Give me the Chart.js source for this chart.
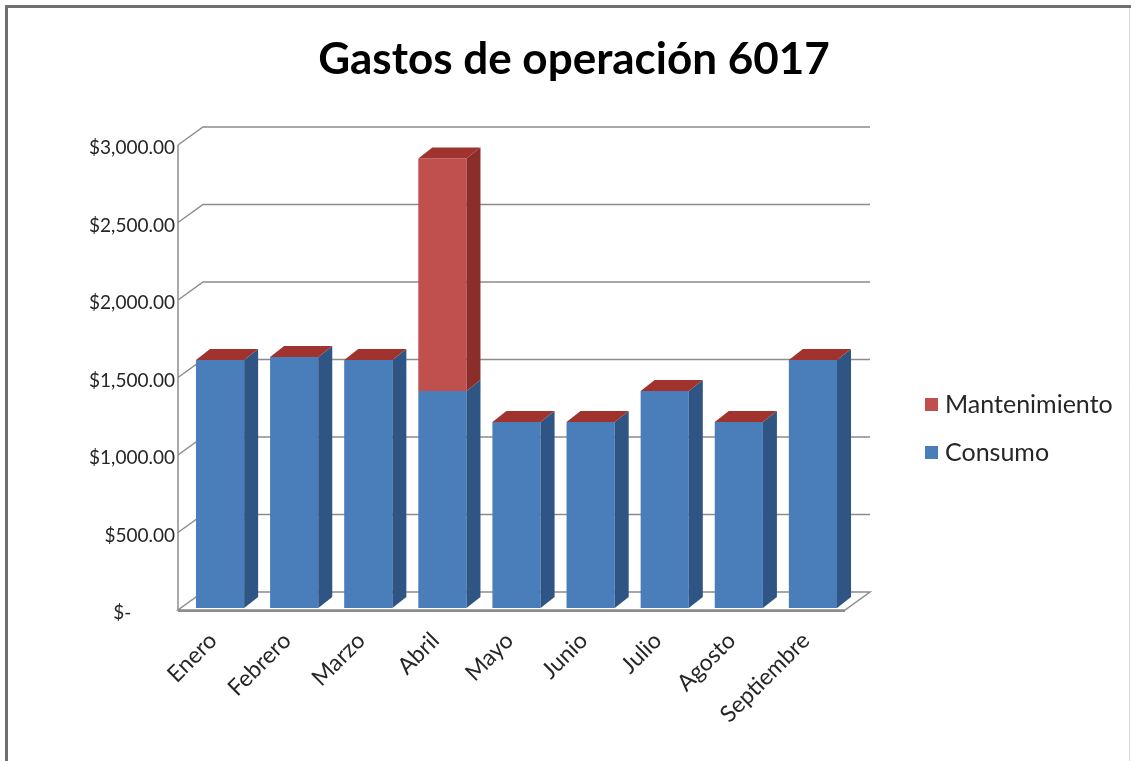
<!DOCTYPE html>
<html>
<head>
<meta charset="utf-8">
<script src="https://cdn.jsdelivr.net/npm/chart.js@4"></script>
<style>
  html, body { margin: 0; padding: 0; background: #fff; }
  #wrap { position: relative; width: 1135px; height: 761px; }
</style>
</head>
<body>
<div id="wrap"><canvas id="gastosChart" width="1135" height="761"></canvas></div>
<script>
// Gastos de operación 6017 - datos
const categories = ['Enero', 'Febrero', 'Marzo', 'Abril', 'Mayo', 'Junio', 'Julio', 'Agosto', 'Septiembre'];
const consumo = [1600, 1620, 1600, 1400, 1200, 1200, 1400, 1200, 1600];
const mantenimiento = [0, 0, 0, 1500, 0, 0, 0, 0, 0];
const yTicks = [0, 500, 1000, 1500, 2000, 2500, 3000];

// 3D look
const barDepth = { dx: 14, dy: -11 };
const wallDepth = { dx: 25, dy: -18 };
const gridColor = '#8c8c8c';
const FONT = 'Lato, "Open Sans", sans-serif';

function formatTick(value) {
    if (value === 0) return '$-         ';
    return '$' + value.toLocaleString('en-US', { minimumFractionDigits: 2, maximumFractionDigits: 2 });
}

const threeD = {
    id: 'threeD',
    beforeDatasetsDraw(chart) {
        const ctx = chart.ctx;
        const ca = chart.chartArea;
        const y = chart.scales.y;
        const fl = ca.left - 5, fr = ca.right - 5;
        const py = v => y.getPixelForValue(v) + 2;
        ctx.save();

        // floor
        const f0 = py(0);
        ctx.beginPath();
        ctx.moveTo(fl, f0);
        ctx.lineTo(fr, f0);
        ctx.lineTo(fr + wallDepth.dx, f0 + wallDepth.dy);
        ctx.lineTo(fl + wallDepth.dx, f0 + wallDepth.dy);
        ctx.closePath();
        ctx.fillStyle = '#ffffff';
        ctx.fill();
        ctx.strokeStyle = gridColor;
        ctx.lineWidth = 1.5;
        ctx.stroke();
        ctx.beginPath();
        ctx.moveTo(fl, f0 + 1);
        ctx.lineTo(fr, f0 + 1);
        ctx.lineWidth = 2;
        ctx.stroke();

        // left wall edge
        ctx.beginPath();
        ctx.moveTo(fl, py(yTicks[yTicks.length - 1]));
        ctx.lineTo(fl, f0);
        ctx.lineWidth = 1.5;
        ctx.stroke();

        // back wall gridlines
        yTicks.forEach(v => {
            if (v === 0) return;
            const yy = py(v);
            ctx.beginPath();
            ctx.moveTo(fl, yy);
            ctx.lineTo(fl + wallDepth.dx, yy + wallDepth.dy);
            ctx.lineTo(fr + wallDepth.dx, yy + wallDepth.dy);
            ctx.stroke();
        });
        ctx.restore();
    },
    afterDatasetsDraw(chart) {
        const ctx = chart.ctx;
        const last = chart.data.datasets.length - 1;
        ctx.save();
        chart.data.datasets.forEach((ds, di) => {
            const meta = chart.getDatasetMeta(di);
            meta.data.forEach(bar => {
                const p = bar.getProps(['x', 'y', 'base', 'width'], true);
                const l = p.x - p.width / 2, r = p.x + p.width / 2;
                const top = Math.min(p.y, p.base), bot = Math.max(p.y, p.base);
                // side face
                ctx.beginPath();
                ctx.moveTo(r, top);
                ctx.lineTo(r + barDepth.dx, top + barDepth.dy);
                ctx.lineTo(r + barDepth.dx, bot + barDepth.dy);
                ctx.lineTo(r, bot);
                ctx.closePath();
                ctx.fillStyle = ds.sideColor;
                ctx.fill();
                // top face only on the top of the stack
                if (di === last) {
                    ctx.beginPath();
                    ctx.moveTo(l, top);
                    ctx.lineTo(l + barDepth.dx, top + barDepth.dy);
                    ctx.lineTo(r + barDepth.dx, top + barDepth.dy);
                    ctx.lineTo(r, top);
                    ctx.closePath();
                    ctx.fillStyle = ds.topColor;
                    ctx.fill();
                }
            });
        });
        ctx.restore();
    },
    afterDraw(chart) {
        const ctx = chart.ctx;
        ctx.save();
        // frame
        ctx.strokeStyle = '#6f6f6f';
        ctx.lineWidth = 3;
        ctx.beginPath();
        ctx.moveTo(6.5, 761);
        ctx.lineTo(6.5, 6.5);
        ctx.lineTo(1131, 6.5);
        ctx.stroke();
        ctx.strokeStyle = '#d8d8d8';
        ctx.lineWidth = 1;
        ctx.beginPath();
        ctx.moveTo(1129.5, 8);
        ctx.lineTo(1129.5, 761);
        ctx.stroke();

        // title
        ctx.fillStyle = '#000';
        ctx.font = 'bold 44px ' + FONT;
        ctx.textAlign = 'center';
        ctx.textBaseline = 'middle';
        ctx.fillText('Gastos de operación 6017', 574, 60);

        // legend (reverse order)
        ctx.font = '25px ' + FONT;
        ctx.textAlign = 'left';
        const items = chart.data.datasets.slice().reverse();
        items.forEach((ds, i) => {
            const cy = 404 + i * 48;
            ctx.fillStyle = ds.backgroundColor;
            ctx.fillRect(925, cy - 6, 13, 13);
            ctx.fillStyle = '#262626';
            ctx.fillText(ds.label, 945, cy + 1);
        });
        ctx.restore();
    }
};

new Chart(document.getElementById('gastosChart'), {
    type: 'bar',
    data: {
        labels: categories,
        datasets: [
            {
                label: 'Consumo',
                data: consumo,
                backgroundColor: '#4a7ebb',
                sideColor: '#2f5584',
                topColor: '#6f98cc',
                borderWidth: 0,
                barPercentage: 0.65,
                categoryPercentage: 1
            },
            {
                label: 'Mantenimiento',
                data: mantenimiento,
                backgroundColor: '#c0504d',
                sideColor: '#8a2d2b',
                topColor: '#a1332f',
                borderWidth: 0,
                barPercentage: 0.65,
                categoryPercentage: 1
            }
        ]
    },
    options: {
        responsive: false,
        animation: false,
        layout: {
            padding: { left: 0, top: 143, right: 285, bottom: 0 }
        },
        plugins: {
            legend: { display: false },
            title: { display: false },
            tooltip: { enabled: false }
        },
        scales: {
            x: {
                stacked: true,
                grid: { display: false, drawTicks: false },
                border: { display: false },
                afterFit: function(scale) { scale.height = 761 - 608; },
                ticks: {
                    color: '#262626',
                    minRotation: 45,
                    maxRotation: 45,
                    padding: 19,
                    labelOffset: -7,
                    font: { family: FONT, size: 23 }
                }
            },
            y: {
                stacked: true,
                min: 0,
                max: 3000,
                afterFit: function(scale) { scale.width = 183; },
                afterBuildTicks: function(scale) {
                    scale.ticks = yTicks.map(v => ({ value: v }));
                },
                grid: { display: false, drawTicks: false },
                border: { display: false },
                ticks: {
                    color: '#262626',
                    padding: 8,
                    labelOffset: 5,
                    font: { family: FONT, size: 19 },
                    callback: function(value) { return formatTick(value); }
                }
            }
        }
    },
    plugins: [threeD]
});
</script>
</body>
</html>
